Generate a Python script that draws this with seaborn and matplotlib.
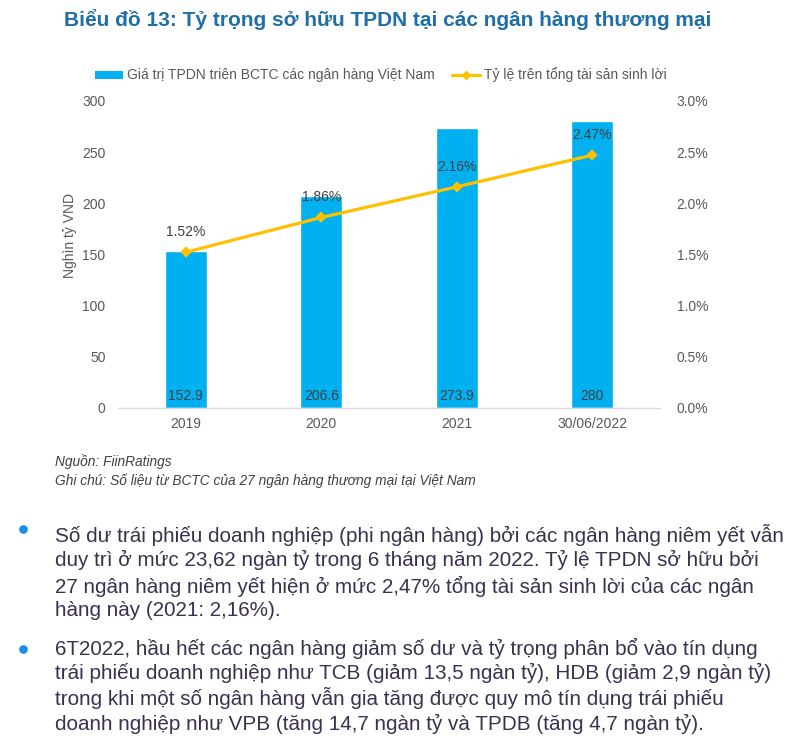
import matplotlib
matplotlib.use("Agg")
import matplotlib.pyplot as plt
import seaborn as sns
import pandas as pd
from matplotlib.lines import Line2D
from matplotlib.patches import Patch
from matplotlib.ticker import FuncFormatter

categories = ["2019", "2020", "2021", "30/06/2022"]
bond_values = [152.9, 206.6, 273.9, 280]
ratio_pct = [1.52, 1.86, 2.16, 2.47]
bar_label_text = ["152.9", "206.6", "273.9", "280"]

title = "Biểu đồ 13: Tỷ trọng sở hữu TPDN tại các ngân hàng thương mại"
legend_bar = "Giá trị TPDN triên BCTC các ngân hàng Việt Nam"
legend_line = "Tỷ lệ trên tổng tài sản sinh lời"
ylabel = "Nghìn tỷ VND"
source = "Nguồn: FiinRatings"
note = "Ghi chú: Số liệu từ BCTC của 27 ngân hàng thương mại tại Việt Nam"
bullets = [
    ["Số dư trái phiếu doanh nghiệp (phi ngân hàng) bởi các ngân hàng niêm yết vẫn",
     "duy trì ở mức 23,62 ngàn tỷ trong 6 tháng năm 2022. Tỷ lệ TPDN sở hữu bởi",
     "27 ngân hàng niêm yết hiện ở mức 2,47% tổng tài sản sinh lời của các ngân",
     "hàng này (2021: 2,16%)."],
    ["6T2022, hầu hết các ngân hàng giảm số dư và tỷ trọng phân bổ vào tín dụng",
     "trái phiếu doanh nghiệp như TCB (giảm 13,5 ngàn tỷ), HDB (giảm 2,9 ngàn tỷ)",
     "trong khi một số ngân hàng vẫn gia tăng được quy mô tín dụng trái phiếu",
     "doanh nghiệp như VPB (tăng 14,7 ngàn tỷ và TPDB (tăng 4,7 ngàn tỷ)."],
]

sns.set_theme(style="white")
plt.rcParams["font.family"] = ["Liberation Sans", "DejaVu Sans"]

BAR = "#00B0F0"
LINE = "#FFC000"
TICK = "#595959"
DARK = "#404040"

df = pd.DataFrame({"cat": categories, "val": bond_values, "pct": [p / 100 for p in ratio_pct]})

W, H = 802, 750
fig = plt.figure(figsize=(W / 100, H / 100), dpi=100)
left, right, top, bottom = 118, 660, 101, 407.5
ax = fig.add_axes([left / W, 1 - bottom / H, (right - left) / W, (bottom - top) / H])

sns.barplot(data=df, x="cat", y="val", color=BAR, width=0.31, saturation=1, ax=ax)
ax.set_ylim(0, 300)
ax.set_yticks(range(0, 301, 50))
ax.set_xlim(-0.5, 3.5)
ax.set_xlabel("")
ax.set_ylabel("")
for s in ["top", "right", "left"]:
    ax.spines[s].set_visible(False)
ax.spines["bottom"].set_color("#D9D9D9")
ax.spines["bottom"].set_linewidth(1.0)
ax.tick_params(axis="y", length=0, pad=9, labelsize=10, labelcolor=TICK)
ax.tick_params(axis="x", length=0, pad=7, labelsize=10, labelcolor=TICK)

for i, t in enumerate(bar_label_text):
    ax.annotate(t, (i, 0), xytext=(0, 12), textcoords="offset pixels",
                ha="center", va="center", fontsize=10, color=DARK)

ax2 = ax.twinx()
sns.pointplot(data=df, x="cat", y="pct", color=LINE, markers="D", markersize=4.5,
              linewidth=2.3, ax=ax2)
ax2.set_ylim(0, 0.03)
ax2.set_xlim(-0.5, 3.5)
ax2.set_yticks([0, 0.005, 0.01, 0.015, 0.02, 0.025, 0.03])
ax2.yaxis.set_major_formatter(FuncFormatter(lambda v, p: f"{v*100:.1f}%"))
ax2.set_ylabel("")
ax2.set_xlabel("")
for s in ax2.spines.values():
    s.set_visible(False)
ax2.tick_params(axis="y", length=0, pad=12, labelsize=10, labelcolor=TICK)
ax2.grid(False)
ax.grid(False)

for i, p in enumerate(ratio_pct):
    ax2.annotate(f"{p:.2f}%", (i, p / 100), xytext=(0, 20), textcoords="offset pixels",
                 ha="center", va="center", fontsize=10, color=DARK)

fig.text(70 / W, 1 - 236 / H, ylabel, rotation=90, ha="center", va="center",
         fontsize=10, color=TICK)

fig.text(388 / W, 1 - 20 / H, title, ha="center", va="center", fontsize=15,
         fontweight="bold", color="#1F6FA6")

handles = [Patch(facecolor=BAR, edgecolor="none"),
           Line2D([0], [0], color=LINE, lw=2.3, marker="D", markersize=4.5)]
fig.legend(handles, [legend_bar, legend_line], loc="center", bbox_to_anchor=(381 / W, 1 - 75 / H),
           ncol=2, frameon=False, fontsize=10, labelcolor=TICK, handlelength=2.0,
           handleheight=0.5, handletextpad=0.3, columnspacing=1.2)

fig.text(55 / W, 1 - 462 / H, source, ha="left", va="center", fontsize=9.9,
         style="italic", color=DARK)
fig.text(55 / W, 1 - 481 / H, note, ha="left", va="center", fontsize=9.9,
         style="italic", color=DARK)

TXT = "#3B3050"
line_ys = [[535, 560, 586, 610], [648, 673, 698, 724]]
dot_ys = [529, 649]
for ys, dy, lines in zip(line_ys, dot_ys, bullets):
    fig.add_artist(Line2D([23 / W], [1 - dy / H], transform=fig.transFigure, marker="o",
                          markersize=5.2, color="#1A8CF0", linestyle="none"))
    for y, ln in zip(ys, lines):
        fig.text(55 / W, 1 - y / H, ln, ha="left", va="center", fontsize=14.9, color=TXT)

fig.savefig("out.png", dpi=100)
